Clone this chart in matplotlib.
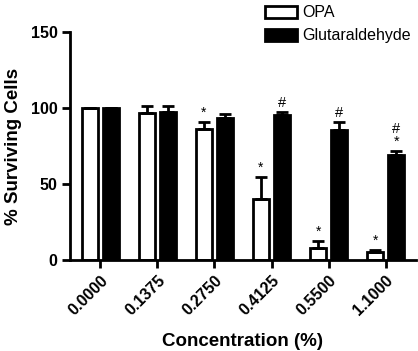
import numpy as np
import matplotlib.pyplot as plt

plt.rcParams['font.family'] = ['Liberation Sans', 'DejaVu Sans']

# Data
concentrations = ['0.0000', '0.1375', '0.2750', '0.4125', '0.5500', '1.1000']
opa_mean = [100, 96.5, 86.5, 40, 7.7, 5.3]
opa_err = [0, 4.5, 4.2, 14.5, 4.8, 1.0]
glut_mean = [100, 97.3, 93.2, 95.1, 85.2, 69]
glut_err = [0, 4.2, 3.0, 2.2, 5.3, 2.9]
opa_marks = ['', '', '*', '*', '*', '*']
glut_marks = ['', '', '', '#', '#', '#\n*']

x = np.arange(len(concentrations))
width = 0.28
offset = 0.185

fig = plt.figure(figsize=(4.18, 3.51), dpi=100)
ax = fig.add_axes([0.1675, 0.2593, 0.8275, 0.6496])

bar_opa = ax.bar(x - offset, opa_mean, width, color='white', edgecolor='black',
                 linewidth=2, label='OPA')
bar_glut = ax.bar(x + offset, glut_mean, width, color='black', edgecolor='black',
                  linewidth=2, label='Glutaraldehyde')
ax.errorbar(x - offset, opa_mean, yerr=[np.zeros(len(x)), opa_err], fmt='none',
            ecolor='black', elinewidth=2, capsize=4.5, capthick=2)
ax.errorbar(x + offset, glut_mean, yerr=[np.zeros(len(x)), glut_err], fmt='none',
            ecolor='black', elinewidth=2, capsize=4.5, capthick=2)

# significance marks
for i in range(len(x)):
    if opa_marks[i]:
        ax.text(x[i] - offset, opa_mean[i] + opa_err[i] + 1.5, opa_marks[i],
                ha='center', va='bottom', fontsize=10, linespacing=0.9)
    if glut_marks[i]:
        ax.text(x[i] + offset, glut_mean[i] + glut_err[i] + 1.5, glut_marks[i],
                ha='center', va='bottom', fontsize=10.5, linespacing=0.9)

ax.set_ylim(0, 150)
ax.set_xlim(-0.53, 5.53)
ax.set_yticks([0, 50, 100, 150])
ax.set_xticks(x)
ax.set_xticklabels(concentrations, rotation=45, ha='right', rotation_mode='anchor',
                   fontweight='bold', fontsize=11.5)
for lab in ax.get_yticklabels():
    lab.set_fontweight('bold')
    lab.set_fontsize(11.5)

ax.spines['top'].set_visible(False)
ax.spines['right'].set_visible(False)
ax.spines['left'].set_linewidth(2)
ax.spines['bottom'].set_linewidth(2)
ax.tick_params(width=2, length=6, direction='out', pad=3)

ax.set_ylabel('% Surviving Cells', fontsize=13.5, fontweight='bold', labelpad=6)
ax.set_xlabel('Concentration (%)', fontsize=13.5, fontweight='bold', labelpad=11)

fig.legend(handles=[bar_opa, bar_glut], loc='upper left', bbox_to_anchor=(0.612, 1.012),
           frameon=False, fontsize=11.5, handlelength=2.0, handleheight=0.8,
           handletextpad=0.3, labelspacing=0.5, borderaxespad=0.2)

fig.savefig('out.png', dpi=100)
